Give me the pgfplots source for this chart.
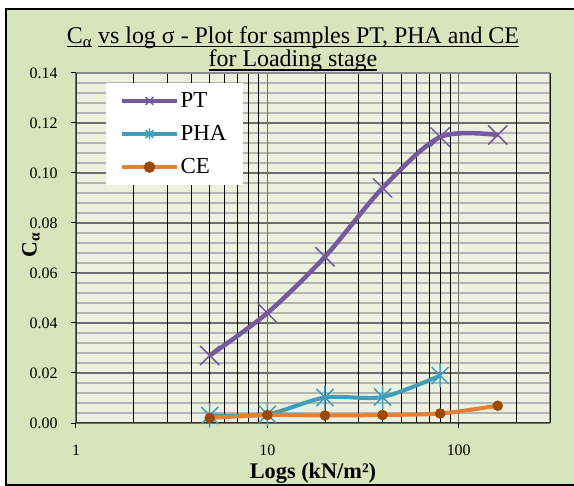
\documentclass[border=0pt]{standalone}
\usepackage{pgfplots}
\pgfplotsset{compat=1.18}
\usepackage{fontspec}
\setmainfont{Liberation Serif}
\definecolor{chartbg}{RGB}{216,228,188}
\definecolor{plotbg}{RGB}{236,240,222}
\definecolor{ptcol}{RGB}{118,90,158}
\definecolor{phacol}{RGB}{64,158,186}
\definecolor{cecol}{RGB}{226,128,54}
\definecolor{cemark}{RGB}{156,72,6}
\definecolor{majgrid}{RGB}{110,110,110}
\definecolor{mingrid}{RGB}{180,180,180}
\pgfdeclareplotmark{xstar}{%
 \pgfpathmoveto{\pgfqpoint{-.70710678\pgfplotmarksize}{-.70710678\pgfplotmarksize}}%
 \pgfpathlineto{\pgfqpoint{.70710678\pgfplotmarksize}{.70710678\pgfplotmarksize}}%
 \pgfpathmoveto{\pgfqpoint{-.70710678\pgfplotmarksize}{.70710678\pgfplotmarksize}}%
 \pgfpathlineto{\pgfqpoint{.70710678\pgfplotmarksize}{-.70710678\pgfplotmarksize}}%
 \pgfpathmoveto{\pgfqpoint{0pt}{-\pgfplotmarksize}}%
 \pgfpathlineto{\pgfqpoint{0pt}{\pgfplotmarksize}}%
 \pgfusepathqstroke}
\newcommand\ul[1]{\setbox0\hbox{#1}\rlap{\rule[-3.6bp]{\wd0}{1.3bp}}\box0\relax}
\begin{document}
\begin{tikzpicture}
\useasboundingbox (-76bp,-63bp) rectangle (498bp,423bp);
\fill[chartbg] (-70bp,-62bp) rectangle (510bp,414bp);
\draw[line width=2.5bp] (510bp,414bp) -- (-70bp,414bp) -- (-70bp,-62bp) -- (510bp,-62bp);
\node[anchor=base, inner sep=0pt, font=\fontsize{24}{28}\selectfont] at (217bp,379.5bp) {\ul{C\textsubscript{α}} \ul{vs log σ - Plot for samples PT, PHA and CE}};
\node[anchor=base, inner sep=0pt, font=\fontsize{24}{28}\selectfont] at (217bp,356bp) {\ul{for Loading stage}};
\node[anchor=base, inner sep=0pt, font=\fontsize{22.4}{26}\selectfont\bfseries] at (237bp,-55.5bp) {Logs (kN/m²)};
\node[rotate=90, font=\fontsize{22}{26}\selectfont\bfseries] at (-45bp,178bp) {C\textsubscript{α}};
\begin{axis}[
  scale only axis, width=474bp, height=350bp,
  at={(0,0)}, anchor=south west,
  xmode=log, log basis x=10, xmin=1, xmax=300, ymin=0, ymax=0.14,
  xtick={1,10,100}, xticklabels={1,10,100},
  minor xtick={2,3,4,5,6,7,8,9,20,30,40,50,60,70,80,90,200,300},
  ytick={0,0.02,0.04,0.06,0.08,0.10,0.12,0.14},
  minor y tick num=4,
  y tick label style={/pgf/number format/fixed, /pgf/number format/fixed zerofill, /pgf/number format/precision=2},
  /pgf/number format/assume math mode=true,
  ticklabel style={font=\fontsize{16}{19}\selectfont},
  yticklabel style={xshift=-10bp},
  xticklabel style={inner sep=0pt, yshift=-17bp},
  xtick pos=bottom, ytick pos=left,
  tick align=outside, major tick length=5bp, minor tick length=0pt,
  tick style={black, line width=1bp},
  grid=both,
  major x grid style={majgrid, line width=1.3bp},
  major y grid style={majgrid, line width=1.3bp},
  minor x grid style={black, line width=0.8bp},
  minor y grid style={mingrid, line width=1.8bp},
  axis line style={draw=none},
  axis background/.style={fill=plotbg},
  legend style={at={(axis description cs:0.0633,0.9714)}, anchor=north west, draw=none, fill=white,
    font=\fontsize{23}{27}\selectfont, row sep=12.5bp, inner xsep=14bp, inner ysep=7.5bp},
  legend cell align=left,
  legend image code/.code={\draw[mark repeat=2,mark phase=2,#1,mark size=5.5bp] plot coordinates {(0bp,0bp) (27bp,0bp) (54bp,0bp)};},
]
\pgfplotsinvokeforeach{2,3,4,5,6,7,8,9,20,30,40,50,60,70,80,90,200}{
  \draw[black, line width=0.8bp] (axis cs:#1,0) -- (axis cs:#1,0.14);
}
\pgfplotsinvokeforeach{10,100}{
  \draw[majgrid, line width=1.3bp] (axis cs:#1,0) -- (axis cs:#1,0.14);
}
\addplot[ptcol, line width=4.5bp, smooth, tension=0.5, mark=x, mark size=13.5bp, mark options={line width=1.5bp, solid}]
  coordinates {(5,0.027)(10,0.044)(20,0.0665)(40,0.094)(80,0.1144)(160,0.1152)};
\addlegendentry{PT}
\addplot[phacol, line width=4bp, smooth, tension=0.5, mark=xstar, mark size=12bp, mark options={line width=1.5bp, solid}]
  coordinates {(5,0.003)(10,0.0035)(20,0.0102)(40,0.0104)(80,0.019)};
\addlegendentry{PHA}
\addplot[cecol, line width=4bp, smooth, tension=0.5, mark=*, mark size=5bp, mark options={fill=cemark, draw=cemark, solid, line width=0.5bp}]
  coordinates {(5,0.002)(10,0.0032)(20,0.003)(40,0.0032)(80,0.0038)(160,0.0069)};
\addlegendentry{CE}
\draw[color=gray!90, line width=2.5bp] (rel axis cs:0,1) -- (rel axis cs:1,1) -- (rel axis cs:1,0);
\draw[color=black!80, line width=1.5bp] (rel axis cs:0,1) -- (rel axis cs:0,0) -- (rel axis cs:1,0);
\end{axis}
\end{tikzpicture}
\end{document}
